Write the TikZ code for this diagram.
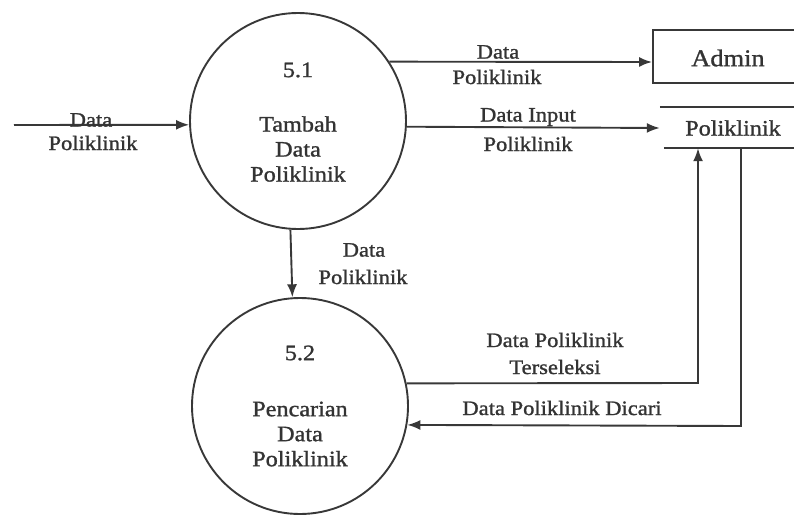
\documentclass[tikz,border=0pt]{standalone}
\usepackage{fontspec}
\setmainfont{Liberation Serif}[FakeStretch=1.1, FakeBold=1.2]
\usetikzlibrary{arrows.meta}
\begin{document}
\begin{tikzpicture}[x=1pt,y=-1pt,
  ink/.style={draw=black!78, line width=1.9pt},
  flow/.style={ink, -{Latex[length=13pt,width=10pt]}},
  proc/.style={ink, circle, minimum size=216pt, inner sep=0pt},
  ptext/.style={text=black!80, align=center, font=\fontsize{22}{25}\selectfont},
  lbl/.style={text=black!80, align=center, inner sep=0pt, font=\fontsize{20.5}{26}\selectfont},
  entity/.style={ink, rectangle, minimum width=144pt, minimum height=53pt, inner sep=0pt},
  store/.style={rectangle, minimum width=146pt, minimum height=41pt, inner sep=0pt}
]
\useasboundingbox (0,0) rectangle (794,514);

% processes
\node[proc] (c1) at (298,121) {};
\node[ptext] (c1num) at (298,70) {5.1};
\node[ptext] (c1txt) at (298,149) {Tambah\\Data\\Poliklinik};

\node[proc] (c2) at (300,406) {};
\node[ptext] (c2num) at (300,353) {5.2};
\node[ptext] (c2txt) at (300,434) {Pencarian\\Data\\Poliklinik};

% external entity and data store
\node[entity] (admin) at (725,56.5) {};
\node[ptext, font=\fontsize{24}{27}\selectfont] (admintxt) at (728,58) {Admin};

\node[store] (st) at (733,127.5) {};
\node[ptext] (sttxt) at (733,128) {Poliklinik};
\draw[ink] (st.north west) -- (st.north east);
\draw[ink] ([xshift=4pt]st.south west) -- (st.south east);

% flows
\coordinate (src) at (14,125);
\draw[flow] (src) -- (c1.182.1);
\node[lbl] (l1a) at (91,120) {Data};
\node[lbl] (l1b) at (93,143) {Poliklinik};

\draw[flow] (c1.33.1) -- (admin.west |- 0,62);
\node[lbl] (l2a) at (498,52) {Data};
\node[lbl] (l2b) at (497,77) {Poliklinik};

\draw[flow] (c1.-3.7) -- (st.west |- 0,128);
\node[lbl] (l3a) at (528,117) {Data Input};
\node[lbl] (l3b) at (528,144) {Poliklinik};

\draw[flow] (c1.266.8) -- (c2.94.2);
\node[lbl] (l4a) at (364,250) {Data};
\node[lbl] (l4b) at (363,277) {Poliklinik};

\coordinate (upc) at (698,383);
\draw[flow] (c2.12.3) -- (upc) -- (upc |- st.south);
\node[lbl] (l5a) at (555,340) {Data Poliklinik};
\node[lbl] (l5b) at (555,367) {Terseleksi};

\coordinate (dnc) at (741,426);
\draw[flow] (dnc |- st.south) -- (dnc) -- (c2.-10.7);
\node[lbl] (l6) at (562,408) {Data Poliklinik Dicari};
\end{tikzpicture}
\end{document}
